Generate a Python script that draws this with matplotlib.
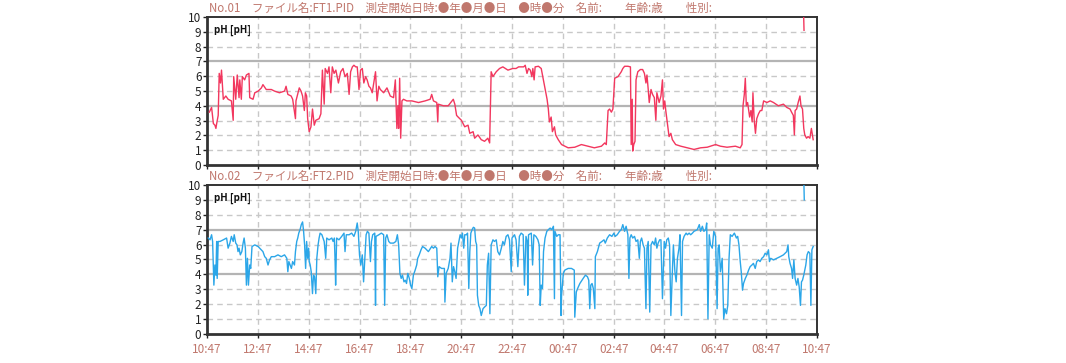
import matplotlib
matplotlib.use("Agg")
import matplotlib.pyplot as plt

plt.rcParams['font.family'] = ['Noto Sans CJK JP', 'DejaVu Sans']

# 時刻ラベル (2時間ごと)
tick_labels = ["10:47", "12:47", "14:47", "16:47", "18:47", "20:47", "22:47",
               "00:47", "02:47", "04:47", "06:47", "08:47", "10:47"]
tick_hours = [0, 2, 4, 6, 8, 10, 12, 14, 16, 18, 20, 22, 24]

titles = ["No.01　ファイル名:FT1.PID　測定開始日時:●年●月●日　●時●分　名前:　　年齢:歳　　性別:",
          "No.02　ファイル名:FT2.PID　測定開始日時:●年●月●日　●時●分　名前:　　年齢:歳　　性別:"]

# FT1 : 経過時間 (h) と pH
t1 = [0.09, 0.18, 0.25, 0.31, 0.35, 0.38, 0.44, 0.48, 0.53, 0.57, 0.64, 0.74, 0.83, 0.96,
      1.03, 1.05, 1.13, 1.19, 1.26, 1.29, 1.35, 1.39, 1.48, 1.55, 1.65, 1.68, 1.81, 1.88,
      2.01, 2.14, 2.20, 2.33, 2.53, 2.66, 2.85, 3.05, 3.11, 3.18, 3.31, 3.37, 3.48, 3.50,
      3.63, 3.70, 3.76, 3.83, 3.87, 3.92, 3.96, 4.02, 4.09, 4.15, 4.22, 4.28, 4.41, 4.48,
      4.54, 4.61, 4.65, 4.74, 4.80, 4.87, 4.93, 5.00, 5.07, 5.17, 5.26, 5.35, 5.43, 5.52,
      5.59, 5.65, 5.72, 5.78, 5.85, 5.91, 5.98, 6.04, 6.11, 6.17, 6.24, 6.30, 6.37, 6.43,
      6.50, 6.56, 6.63, 6.69, 6.76, 6.82, 6.95, 7.08, 7.21, 7.34, 7.41, 7.47, 7.51, 7.54,
      7.58, 7.62, 7.67, 7.73, 7.86, 8.06, 8.32, 8.58, 8.78, 8.84, 8.91, 9.04, 9.08, 9.10,
      9.30, 9.49, 9.69, 9.75, 9.82, 9.88, 10.01, 10.14, 10.27, 10.34, 10.47, 10.53, 10.66,
      10.79, 10.92, 11.05, 11.12, 11.18, 11.25, 11.38, 11.51, 11.64, 11.84, 12.03, 12.16,
      12.26, 12.46, 12.52, 12.59, 12.65, 12.72, 12.78, 12.82, 12.87, 12.91, 13.04, 13.15,
      13.21, 13.28, 13.33, 13.38, 13.43, 13.47, 13.54, 13.59, 13.67, 13.72, 13.82, 13.95,
      14.21, 14.47, 14.73, 14.99, 15.24, 15.52, 15.65, 15.71, 15.78, 15.84, 15.91, 15.97,
      16.04, 16.17, 16.30, 16.36, 16.43, 16.56, 16.66, 16.69, 16.73, 16.75, 16.79, 16.84,
      16.88, 16.95, 17.05, 17.14, 17.21, 17.27, 17.31, 17.36, 17.40, 17.47, 17.53, 17.60,
      17.66, 17.70, 17.79, 17.86, 17.92, 17.96, 18.01, 18.05, 18.09, 18.14, 18.18, 18.25,
      18.31, 18.44, 18.64, 18.90, 19.16, 19.42, 19.68, 20.01, 20.20, 20.46, 20.79, 20.98,
      21.05, 21.09, 21.14, 21.18, 21.22, 21.27, 21.35, 21.40, 21.45, 21.48, 21.53, 21.58,
      21.63, 21.70, 21.77, 21.83, 21.90, 22.03, 22.16, 22.29, 22.48, 22.68, 22.81, 22.94,
      23.00, 23.07, 23.11, 23.14, 23.20, 23.26, 23.33, 23.37, 23.43, 23.48, 23.52, 23.59,
      23.65, 23.72, 23.78, 23.85]
ph1 = [3.57, 3.89, 2.80, 2.69, 2.47, 2.80, 3.35, 6.19, 5.54, 6.41, 4.44, 4.66, 4.44, 4.33,
       3.02, 5.97, 4.44, 6.08, 4.55, 5.75, 4.44, 5.97, 5.75, 6.08, 6.19, 4.55, 4.44, 4.88,
       4.99, 5.21, 5.43, 5.10, 5.10, 4.99, 4.88, 4.99, 5.32, 4.77, 4.66, 4.44, 3.13, 4.33,
       5.21, 4.99, 4.66, 3.68, 4.88, 4.66, 3.13, 2.25, 2.58, 3.78, 2.69, 3.02, 3.13, 3.46,
       6.41, 4.11, 6.52, 6.19, 6.63, 4.88, 6.63, 6.19, 6.41, 5.54, 6.30, 6.52, 5.97, 6.19,
       4.77, 6.30, 6.63, 6.74, 6.63, 6.63, 5.10, 6.41, 6.52, 5.54, 5.97, 5.75, 5.32, 5.21,
       4.88, 5.54, 6.30, 4.33, 5.32, 5.10, 4.88, 5.21, 4.66, 4.55, 5.75, 2.47, 4.00, 2.47,
       5.86, 1.81, 4.33, 4.44, 4.33, 4.33, 4.22, 4.33, 4.44, 4.77, 4.33, 4.22, 2.91, 4.11,
       4.00, 4.00, 4.44, 4.11, 3.35, 3.24, 3.02, 2.58, 2.69, 2.14, 2.25, 1.81, 2.03,
       1.71, 1.60, 1.81, 1.49, 6.30, 5.97, 6.30, 6.52, 6.63, 6.41, 6.52, 6.52,
       6.63, 6.63, 6.74, 6.19, 6.52, 6.41, 5.97, 6.52, 5.75, 6.63, 6.67, 6.52,
       5.97, 5.32, 4.88, 4.44, 3.78, 2.91, 3.24, 2.25, 2.58, 2.03, 1.71, 1.38,
       1.16, 1.20, 1.38, 1.27, 1.16, 1.27, 1.49, 1.38, 3.68, 3.78, 3.57, 3.78,
       5.86, 5.97, 6.30, 6.52, 6.67, 6.67, 6.63, 1.38, 4.44, 0.94, 1.38, 1.60,
       5.75, 6.30, 6.45, 6.45, 6.19, 5.54, 6.08, 5.10, 4.22, 5.10, 4.77, 4.55,
       3.02, 4.88, 4.22, 4.66, 5.75, 3.78, 4.33, 3.68, 3.13, 2.47, 1.92, 2.14,
       1.71, 1.38, 1.27, 1.16, 1.05, 1.16, 1.20, 1.38, 1.27, 1.20, 1.27, 1.16,
       1.38, 4.00, 4.77, 5.86, 4.00, 4.22, 3.24, 3.68, 2.91, 4.88, 3.02, 2.14,
       3.13, 3.46, 3.68, 3.68, 4.33, 4.22, 4.33, 4.22, 4.00, 4.11, 3.89, 3.78,
       3.57, 3.35, 2.03, 3.68, 3.78, 4.22, 4.66, 4.00, 3.78, 2.47, 2.03, 1.81,
       1.92, 1.81, 2.47, 1.71]
# 終了直前のスパイク
t1_spike = [23.47, 23.49]
ph1_spike = [10.5, 9.1]

# FT2 : 経過時間 (h) と pH
t2 = [0.05, 0.12, 0.18, 0.22, 0.25, 0.27, 0.31, 0.35, 0.38, 0.40, 0.44, 0.51, 0.64, 0.77,
      0.83, 0.90, 0.96, 1.03, 1.07, 1.13, 1.18, 1.22, 1.26, 1.31, 1.37, 1.42, 1.46, 1.51,
      1.55, 1.59, 1.63, 1.68, 1.72, 1.77, 1.88, 2.01, 2.07, 2.20, 2.27, 2.33, 2.40, 2.46,
      2.53, 2.66, 2.79, 2.92, 3.05, 3.14, 3.18, 3.22, 3.27, 3.32, 3.37, 3.44, 3.48, 3.53,
      3.57, 3.61, 3.66, 3.71, 3.76, 3.80, 3.84, 3.88, 3.92, 3.96, 4.00, 4.02, 4.06, 4.10,
      4.15, 4.19, 4.23, 4.28, 4.32, 4.37, 4.41, 4.45, 4.52, 4.61, 4.67, 4.71, 4.80, 4.91,
      4.96, 5.01, 5.04, 5.06, 5.10, 5.19, 5.30, 5.39, 5.43, 5.48, 5.59, 5.69, 5.78, 5.85,
      5.91, 5.95, 6.00, 6.05, 6.11, 6.16, 6.21, 6.26, 6.31, 6.37, 6.43, 6.47, 6.52, 6.60,
      6.63, 6.65, 6.76, 6.86, 6.95, 6.99, 7.03, 7.08, 7.15, 7.21, 7.34, 7.43, 7.49, 7.54,
      7.59, 7.64, 7.69, 7.75, 7.80, 7.85, 7.90, 7.96, 8.01, 8.06, 8.12, 8.19, 8.25, 8.29,
      8.35, 8.42, 8.48, 8.58, 8.71, 8.84, 8.91, 8.97, 9.04, 9.08, 9.13, 9.23, 9.34, 9.36,
      9.41, 9.49, 9.56, 9.60, 9.65, 9.70, 9.75, 9.80, 9.86, 9.91, 9.96, 10.01, 10.05,
      10.10, 10.14, 10.21, 10.25, 10.30, 10.34, 10.38, 10.43, 10.48, 10.53, 10.57, 10.61,
      10.64, 10.69, 10.74, 10.79, 10.86, 10.92, 10.99, 11.03, 11.08, 11.13, 11.18, 11.25,
      11.31, 11.38, 11.44, 11.51, 11.58, 11.64, 11.70, 11.77, 11.84, 11.90, 11.97, 12.00,
      12.10, 12.16, 12.23, 12.29, 12.36, 12.44, 12.49, 12.55, 12.60, 12.62, 12.65, 12.76,
      12.81, 12.86, 12.94, 13.02, 13.07, 13.11, 13.15, 13.20, 13.24, 13.30, 13.37, 13.43,
      13.50, 13.56, 13.63, 13.67, 13.69, 13.76, 13.82, 13.89, 13.93, 13.95, 14.02, 14.08,
      14.21, 14.34, 14.45, 14.47, 14.53, 14.58, 14.67, 14.80, 14.89, 14.97, 15.02, 15.06,
      15.10, 15.15, 15.20, 15.26, 15.28, 15.36, 15.45, 15.54, 15.62, 15.67, 15.75, 15.84,
      15.93, 16.01, 16.06, 16.14, 16.23, 16.30, 16.36, 16.43, 16.49, 16.56, 16.60, 16.64,
      16.69, 16.75, 16.82, 16.88, 16.95, 17.01, 17.05, 17.10, 17.16, 17.21, 17.27, 17.31,
      17.36, 17.42, 17.47, 17.53, 17.60, 17.65, 17.70, 17.75, 17.81, 17.86, 17.92, 17.99,
      18.04, 18.09, 18.15, 18.20, 18.25, 18.30, 18.35, 18.41, 18.46, 18.51, 18.57, 18.61,
      18.67, 18.71, 18.77, 18.85, 18.90, 18.97, 19.03, 19.10, 19.16, 19.29, 19.37, 19.42,
      19.49, 19.55, 19.62, 19.66, 19.71, 19.76, 19.81, 19.88, 19.94, 20.01, 20.07, 20.11,
      20.15, 20.20, 20.27, 20.33, 20.38, 20.44, 20.49, 20.54, 20.59, 20.66, 20.75, 20.83,
      20.88, 20.93, 20.98, 21.02, 21.07, 21.11, 21.18, 21.24, 21.31, 21.37, 21.44, 21.50,
      21.57, 21.63, 21.70, 21.76, 21.83, 21.90, 21.96, 22.03, 22.09, 22.13, 22.18, 22.29,
      22.42, 22.55, 22.68, 22.81, 22.86, 22.89, 22.94, 23.00, 23.04, 23.09, 23.14, 23.20,
      23.25, 23.30, 23.35, 23.39, 23.43, 23.48, 23.56, 23.61, 23.66, 23.72, 23.76, 23.80,
      23.85]
ph2 = [6.44, 6.32, 6.66, 6.21, 4.40, 3.28, 4.63, 3.95, 6.21, 3.73, 6.21, 6.21, 6.32, 6.44,
       5.76, 6.10, 6.55, 6.21, 6.66, 6.10, 5.98, 5.53, 5.76, 5.31, 5.53, 6.10, 6.44, 5.76,
       3.28, 5.08, 3.28, 4.63, 4.40, 5.87, 5.98, 5.87, 5.76, 5.53, 5.19, 5.08, 4.63, 4.97,
       5.19, 5.19, 5.31, 5.19, 5.31, 5.08, 4.18, 4.86, 4.63, 4.40, 4.86, 4.63, 5.53, 6.21,
       6.44, 6.77, 7.00, 7.34, 7.52, 6.89, 5.98, 4.40, 6.21, 5.08, 5.76, 4.86, 4.63, 4.18,
       2.71, 3.95, 3.84, 2.71, 5.08, 5.98, 6.44, 6.77, 6.66, 6.21, 5.08, 6.44, 6.32, 6.44,
       6.21, 6.44, 4.86, 3.28, 6.44, 6.32, 6.55, 6.77, 5.53, 6.66, 6.66, 6.77, 6.55, 6.89,
       7.45, 6.89, 5.31, 4.63, 5.31, 3.50, 5.08, 6.66, 6.89, 6.77, 4.86, 6.21, 6.66, 6.77,
       1.92, 6.55, 6.66, 6.77, 6.66, 1.92, 6.44, 6.66, 6.21, 6.10, 6.10, 6.21, 6.66, 5.98,
       4.07, 3.73, 3.95, 3.50, 3.61, 3.39, 4.07, 3.73, 3.28, 3.05, 3.95, 4.29, 4.63, 5.08,
       5.31, 5.65, 5.87, 5.76, 5.53, 5.87, 5.76, 5.87, 5.76, 3.84, 4.52, 4.40, 4.40, 2.14,
       4.07, 4.40, 5.08, 6.10, 3.50, 4.52, 4.18, 3.73, 5.76, 6.21, 6.66, 6.44, 6.77,
       5.76, 6.66, 6.66, 6.77, 3.05, 5.53, 6.77, 7.00, 7.16, 7.11, 6.21, 5.98,
       2.60, 1.92, 1.70, 1.24, 1.70, 1.81, 1.92, 4.63, 5.42, 1.36, 5.98, 6.32,
       6.21, 6.32, 5.53, 5.31, 5.76, 6.21, 5.98, 6.55, 6.66, 6.32, 4.18, 6.44,
       6.66, 6.32, 4.52, 6.55, 6.77, 6.66, 3.28, 6.55, 6.21, 2.60, 6.66, 6.77,
       4.63, 6.66, 6.55, 6.32, 5.98, 1.92, 3.28, 3.05, 5.53, 6.44, 6.89, 7.00,
       7.11, 7.00, 7.23, 2.37, 6.89, 6.55, 6.66, 6.66, 1.24, 2.60, 4.07, 4.29,
       4.40, 4.40, 4.29, 1.13, 2.82, 3.05, 3.39, 3.73, 3.95, 3.84, 3.61, 1.70,
       3.28, 3.39, 3.05, 1.70, 5.19, 5.53, 6.10, 6.21, 6.32, 6.10, 6.44, 6.66,
       6.55, 6.77, 6.55, 6.66, 6.89, 7.00, 7.34, 6.89, 7.23, 6.66, 3.73, 6.44,
       6.66, 6.44, 6.55, 6.21, 6.32, 5.08, 6.21, 6.44, 5.98, 5.76, 1.70, 5.76,
       6.21, 1.47, 5.98, 6.21, 5.98, 6.44, 5.76, 6.10, 6.32, 6.32, 2.37, 6.21,
       5.76, 6.32, 6.44, 5.98, 1.24, 3.73, 5.98, 4.18, 3.50, 5.08, 5.76, 6.66,
       1.24, 6.21, 6.55, 6.77, 6.66, 6.77, 6.66, 6.77, 6.89, 7.00, 7.34, 6.89,
       7.23, 6.89, 7.00, 7.45, 1.02, 6.66, 5.98, 5.76, 6.89, 6.55, 1.70, 5.76,
       5.98, 4.18, 5.08, 1.02, 1.70, 1.36, 1.92, 5.08, 6.66, 6.55, 6.77, 6.44,
       6.55, 5.98, 4.86, 4.18, 2.94, 3.39, 3.73, 3.95, 4.29, 4.52, 4.63, 4.74,
       4.40, 4.86, 4.97, 4.86, 5.08, 5.19, 5.42, 5.31, 5.65, 4.86, 5.08, 4.97,
       5.08, 5.19, 5.31, 5.53, 5.98, 5.19, 4.74, 4.40, 3.73, 4.97, 3.73, 3.28,
       3.73, 3.16, 1.92, 3.50, 3.61, 3.95, 4.63, 5.31, 5.53, 5.42, 1.92, 5.65,
       5.87]
t2_spike = [23.48, 23.50]
ph2_spike = [10.5, 9.0]

label_color = '#c0776d'
red = '#f2375e'
blue = '#2ba6e8'

fig = plt.figure(figsize=(10.66, 3.63), dpi=100)
ax1 = fig.add_axes([0.1942, 0.5455, 0.5722, 0.4077])
ax2 = fig.add_axes([0.1942, 0.0799, 0.5722, 0.4105])

panels = [(ax1, t1, ph1, t1_spike, ph1_spike, red, titles[0]),
          (ax2, t2, ph2, t2_spike, ph2_spike, blue, titles[1])]

for ax, t, ph, ts, phs, col, title in panels:
    # グリッド
    for v in [1, 2, 3, 5, 6, 8, 9]:
        ax.axhline(v, color='#c8c8c8', lw=1, ls=(0, (4, 3)), zorder=1)
    for v in [4, 7]:
        ax.axhline(v, color='#b4b4b4', lw=1.6, zorder=1)
    for h in tick_hours[1:-1]:
        ax.axvline(h, color='#c8c8c8', lw=1, ls=(0, (4, 3)), zorder=1)

    ax.plot(t, ph, color=col, lw=1.0, zorder=3)
    ax.plot(ts, phs, color=col, lw=1.0, zorder=3)

    ax.set_xlim(0, 24)
    ax.set_ylim(0, 10)
    ax.set_yticks(range(0, 11))
    ax.set_xticks(tick_hours)
    ax.tick_params(axis='y', labelsize=8.5, length=3, width=1, pad=1, colors='#222222')
    ax.tick_params(axis='x', length=3, width=1, colors='#222222')
    for s in ax.spines.values():
        s.set_color('#333333')
        s.set_linewidth(1.4)
    ax.spines['left'].set_linewidth(2)
    ax.spines['bottom'].set_linewidth(2)

    ax.text(0.012, 0.91, "pH [pH]", transform=ax.transAxes, fontsize=7,
            fontweight='bold', color='#111111', va='center', ha='left', zorder=4)
    ax.text(0.004, 1.015, title, transform=ax.transAxes, fontsize=8.3,
            color=label_color, va='bottom', ha='left')

ax1.set_xticklabels([])
ax2.set_xticklabels(tick_labels, fontsize=8.5)
for lab in ax2.get_xticklabels():
    lab.set_color(label_color)

plt.savefig("out.png", dpi=100)
